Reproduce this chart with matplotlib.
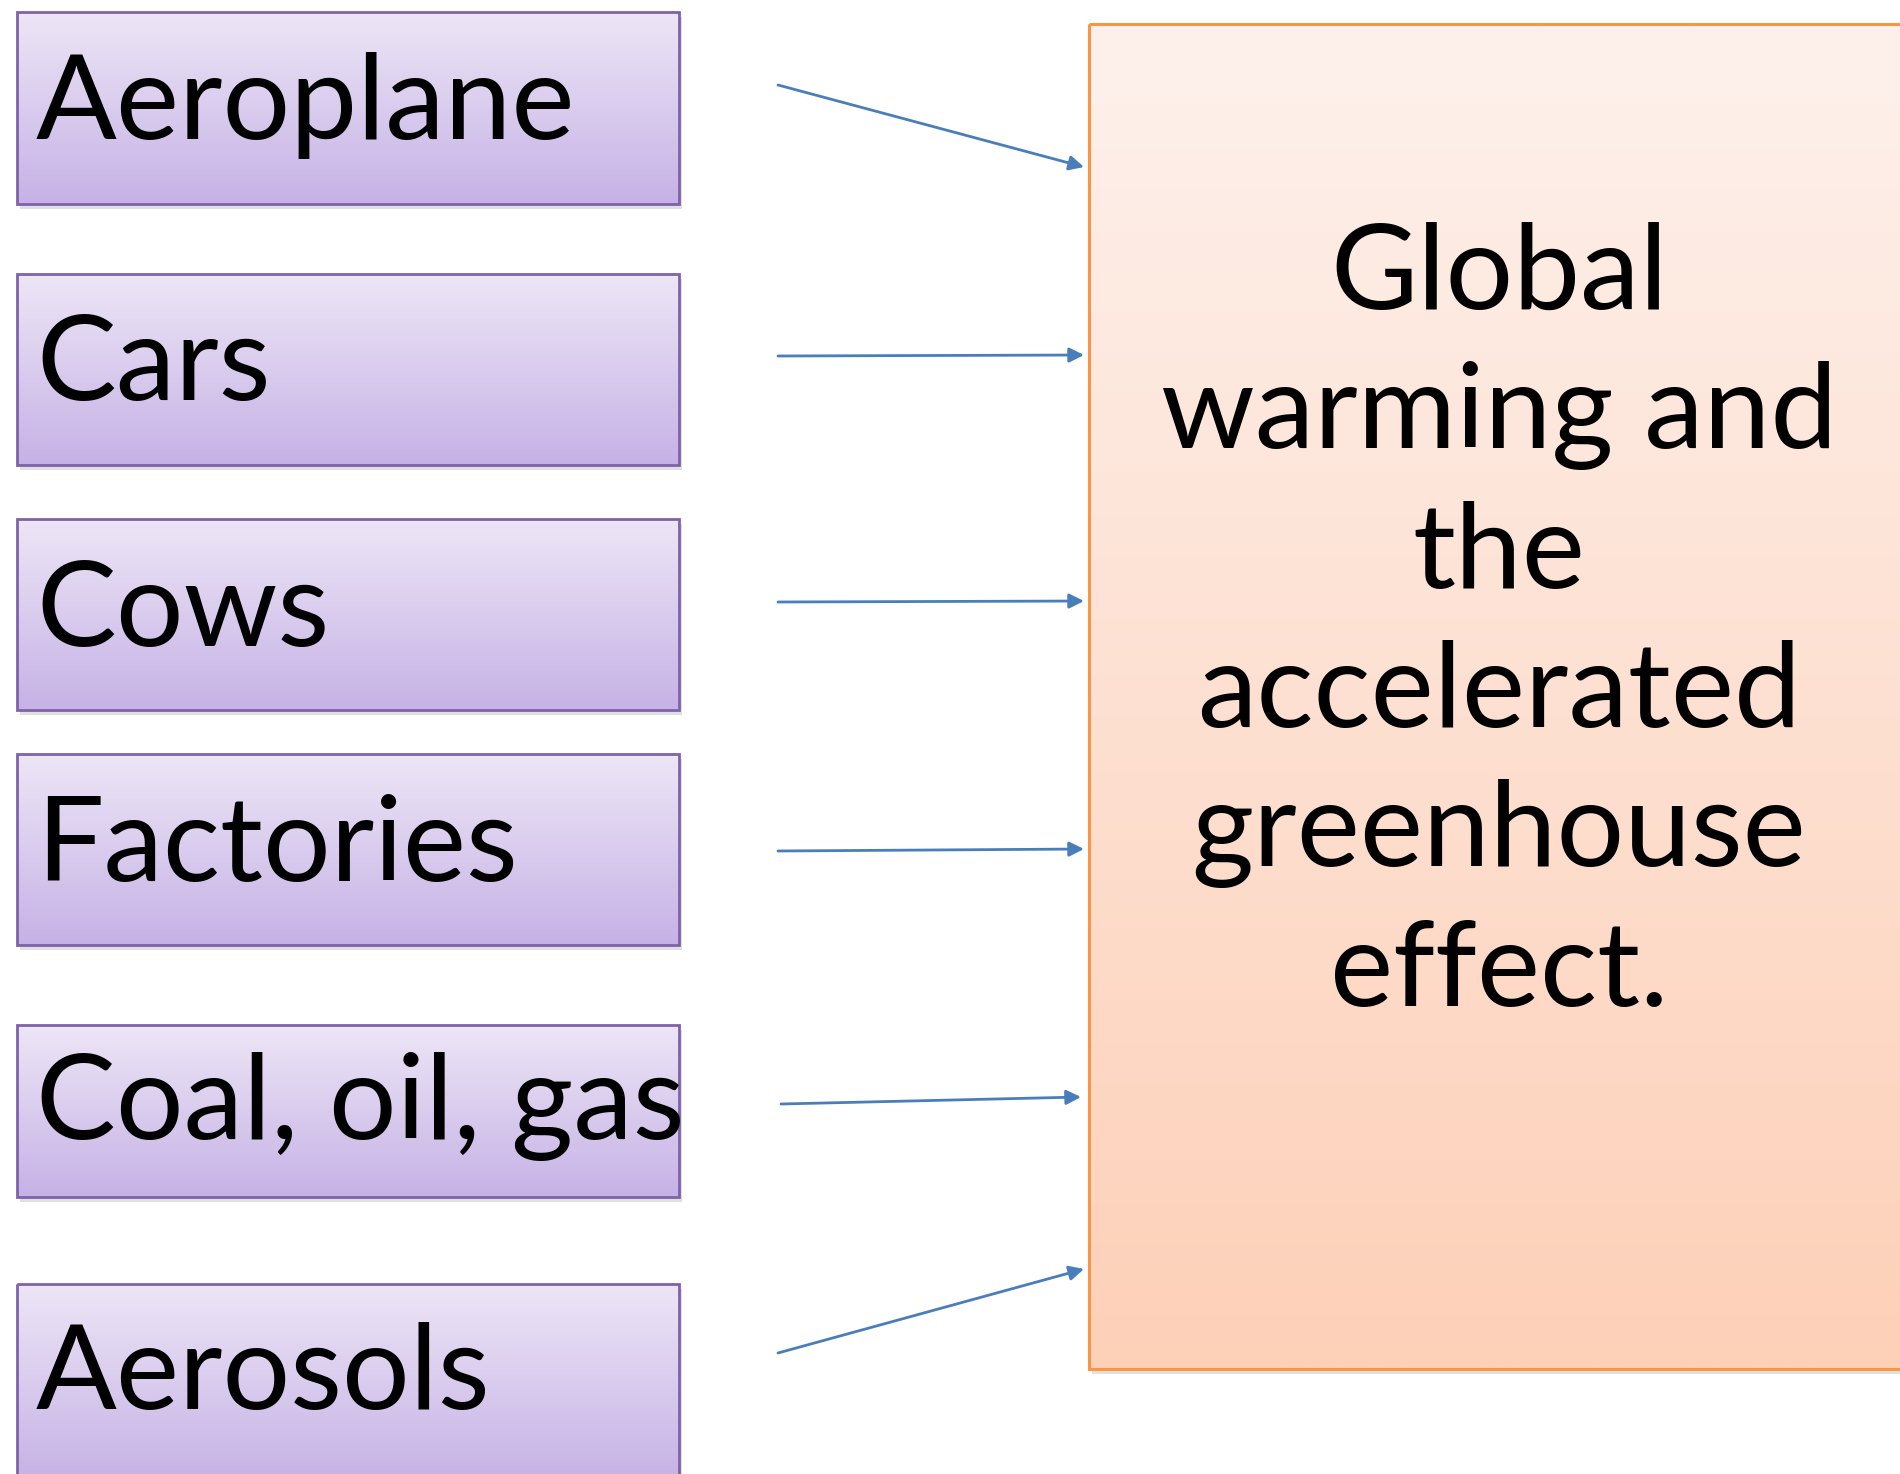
import matplotlib.pyplot as plt
import numpy as np
from matplotlib.patches import Rectangle, FancyArrowPatch

# causes on the left, effect on the right
labels = ["Aeroplane", "Cars", "Cows", "Factories", "Coal, oil, gas", "Aerosols"]
box_top = [12, 274, 519, 754, 1025, 1284]
box_bottom = [204, 465, 710, 945, 1197, 1480]
label_baseline = [139, 400, 646, 881, 1139, 1409]

arrow_start = [(778, 85), (778, 356), (778, 602), (778, 851), (781, 1104), (778, 1353)]
arrow_end = [(1084, 167), (1084, 355), (1084, 601), (1084, 849), (1081, 1097), (1084, 1269)]

effect_lines = ["Global", "warming and", "the", "accelerated", "greenhouse", "effect."]
effect_baseline = [309, 448, 588, 727, 866, 1006]

FONT = "Lato"
SIZE = 86
W, H = 1900, 1474


def gradient_box(ax, x0, x1, y0, y1, top, bottom, edge, lw):
    c0 = np.array(plt.matplotlib.colors.to_rgb(top))
    c1 = np.array(plt.matplotlib.colors.to_rgb(bottom))
    t = np.linspace(0, 1, 256)[:, None, None]
    img = c0 * (1 - t) + c1 * t
    # soft shadow
    ax.add_patch(Rectangle((x0 + 3, y0 + 5), x1 - x0, y1 - y0,
                           facecolor="#000000", alpha=0.12, edgecolor="none", zorder=1))
    ax.imshow(img, extent=(x0, x1, y1, y0), aspect="auto", zorder=2,
              interpolation="bilinear")
    ax.add_patch(Rectangle((x0, y0), x1 - x0, y1 - y0, facecolor="none",
                           edgecolor=edge, linewidth=lw, zorder=3))


fig = plt.figure(figsize=(19, 14.74), dpi=100)
ax = fig.add_axes([0, 0, 1, 1])
ax.set_xlim(0, W)
ax.set_ylim(H, 0)
ax.axis("off")

for lab, t, b, base in zip(labels, box_top, box_bottom, label_baseline):
    gradient_box(ax, 17, 679, t, b, "#ede6f6", "#c6b2e6", "#7f62a9", 2.0)
    ax.text(36, base, lab, fontsize=SIZE, family=FONT, color="black",
            ha="left", va="baseline", zorder=4)

gradient_box(ax, 1089, 1915, 24, 1369, "#fef1ec", "#fdd0b8", "#f79646", 2.2)

for line, base in zip(effect_lines, effect_baseline):
    ax.text(1499, base, line, fontsize=SIZE, family=FONT, color="black",
            ha="center", va="baseline", zorder=4)

for s, e in zip(arrow_start, arrow_end):
    ax.add_patch(FancyArrowPatch(s, e, arrowstyle="-|>", mutation_scale=22,
                                 linewidth=2.0, color="#4a7ebb",
                                 shrinkA=0, shrinkB=0, zorder=5))

fig.savefig("out.png", dpi=100, facecolor="white")
